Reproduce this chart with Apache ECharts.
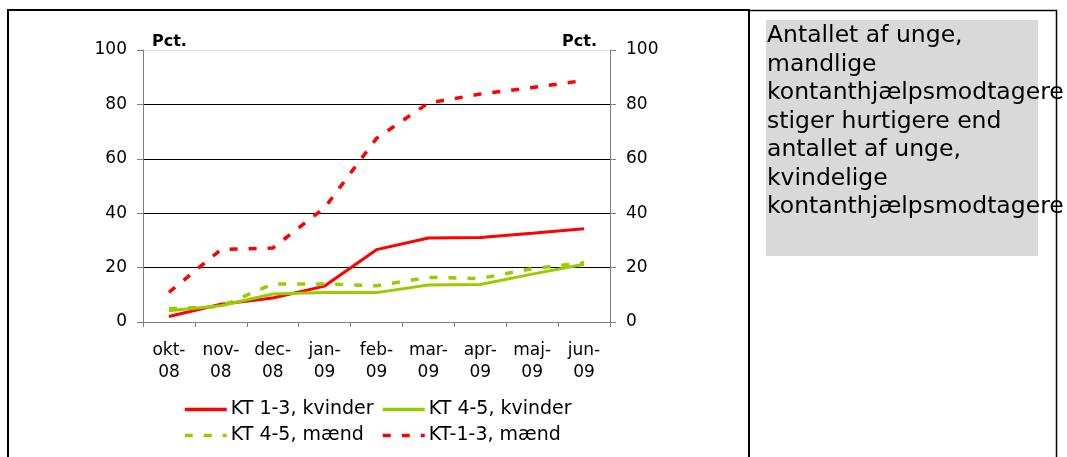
<!DOCTYPE html>
<html>
<head>
<meta charset="utf-8">
<script src="https://cdn.jsdelivr.net/npm/echarts@6/dist/echarts.min.js"></script>
<style>
html, body { margin: 0; padding: 0; background: #fff; }
#chart { width: 1067px; height: 457px; }
</style>
</head>
<body>
<div id="chart"></div>
<script>
// kategorier og serier
const months = ['okt-\n08', 'nov-\n08', 'dec-\n08', 'jan-\n09', 'feb-\n09', 'mar-\n09', 'apr-\n09', 'maj-\n09', 'jun-\n09'];
const seriesNames = ['KT 1-3, kvinder', 'KT 4-5, kvinder', 'KT 4-5, mænd', 'KT-1-3, mænd'];
const kt13Kvinder = [2.0, 6.5, 8.8, 13.2, 26.6, 30.9, 31.1, 32.6, 34.3];
const kt45Kvinder = [4.1, 6.0, 10.3, 10.8, 10.8, 13.6, 13.8, 17.6, 21.2];
const kt45Maend = [4.9, 5.7, 14.0, 14.0, 13.3, 16.4, 16.0, 19.6, 21.8];
const kt13Maend = [10.9, 26.6, 27.2, 42.0, 67.5, 80.5, 83.8, 86.2, 88.8];
const yTicks = [0, 20, 40, 60, 80, 100];
const noteLines = [
    'Antallet af unge,',
    'mandlige',
    'kontanthjælpsmodtagere',
    'stiger hurtigere end',
    'antallet af unge,',
    'kvindelige',
    'kontanthjælpsmodtagere'
];

const FONT = 'DejaVu Sans';
const RED = '#ff0000';
const GREEN = '#99cc00';

const chart = echarts.init(document.getElementById('chart'));

function lineSeries(name, data, color, dashed) {
    return {
        name: name,
        type: 'line',
        data: data,
        symbol: 'none',
        lineStyle: { color: color, width: dashed ? 3.5 : 3, type: dashed ? [8, 11] : 'solid' },
        itemStyle: { color: color },
    };
}

function yAxisDef(pos) {
    const left = pos === 'left';
    return {
        type: 'value',
        position: pos,
        min: yTicks[0],
        max: yTicks[yTicks.length - 1],
        interval: 20,
        name: 'Pct.',
        nameLocation: 'end',
        nameGap: 0,
        nameTextStyle: {
            fontFamily: FONT, fontWeight: 'bold', fontSize: 16, color: '#000',
            align: left ? 'left' : 'right',
            padding: left ? [0, 0, 0, 9] : [0, 13, 0, 0],
        },
        axisLine: { show: true, lineStyle: { color: '#808080', width: 1 } },
        axisTick: { show: true, length: 6, lineStyle: { color: '#808080' } },
        axisLabel: { fontFamily: FONT, fontSize: 17, color: '#000', margin: 16 },
        splitLine: left
            ? { show: true, lineStyle: { color: ['#000', '#000', '#000', '#000', '#000', '#e6e6e6'], width: 1 } }
            : { show: false },
    };
}

const legendSpots = [[183, 400], [381, 400], [183, 426], [381, 426]];

chart.setOption({
    animation: false,
    backgroundColor: '#fff',
    grid: { left: 143, right: 457, top: 50, bottom: 135 },
    xAxis: {
        type: 'category',
        data: months,
        boundaryGap: true,
        axisLine: { lineStyle: { color: '#808080', width: 1 } },
        axisTick: { show: true, length: 5, lineStyle: { color: '#808080' } },
        axisLabel: { fontFamily: FONT, fontSize: 17, color: '#000', margin: 18, lineHeight: 22, interval: 0 },
    },
    yAxis: [yAxisDef('left'), yAxisDef('right')],
    legend: seriesNames.map(function (n, i) {
        return {
            data: [n],
            left: legendSpots[i][0],
            top: legendSpots[i][1],
            padding: 0,
            itemGap: 0,
            itemWidth: 42,
            itemHeight: 18,
            itemStyle: { opacity: 0 },
            lineStyle: { width: 3.5 },
            textStyle: { fontFamily: FONT, fontSize: 19, color: '#000', padding: [0, 0, 0, -1] },
        };
    }),
    series: [
        lineSeries(seriesNames[0], kt13Kvinder, RED, false),
        lineSeries(seriesNames[1], kt45Kvinder, GREEN, false),
        lineSeries(seriesNames[2], kt45Maend, GREEN, true),
        lineSeries(seriesNames[3], kt13Maend, RED, true),
    ],
    graphic: [
        { type: 'rect', shape: { x: 766, y: 20, width: 272, height: 236 }, style: { fill: '#d9d9d9' } },
        {
            type: 'text', left: 767, top: 22,
            style: { text: noteLines.join('\n'), fontFamily: FONT, fontSize: 23.5, fill: '#000', lineHeight: 28.5 },
        },
        {
            type: 'polyline',
            shape: { points: [[8, 470], [8, 10], [749, 10], [749, 470]] },
            style: { stroke: '#000', lineWidth: 2, fill: null },
        },
        {
            type: 'polyline',
            shape: { points: [[749, 10.5], [1056.5, 10.5], [1056.5, 470]] },
            style: { stroke: '#000', lineWidth: 1.5, fill: null },
        },
    ],
});
</script>
</body>
</html>
